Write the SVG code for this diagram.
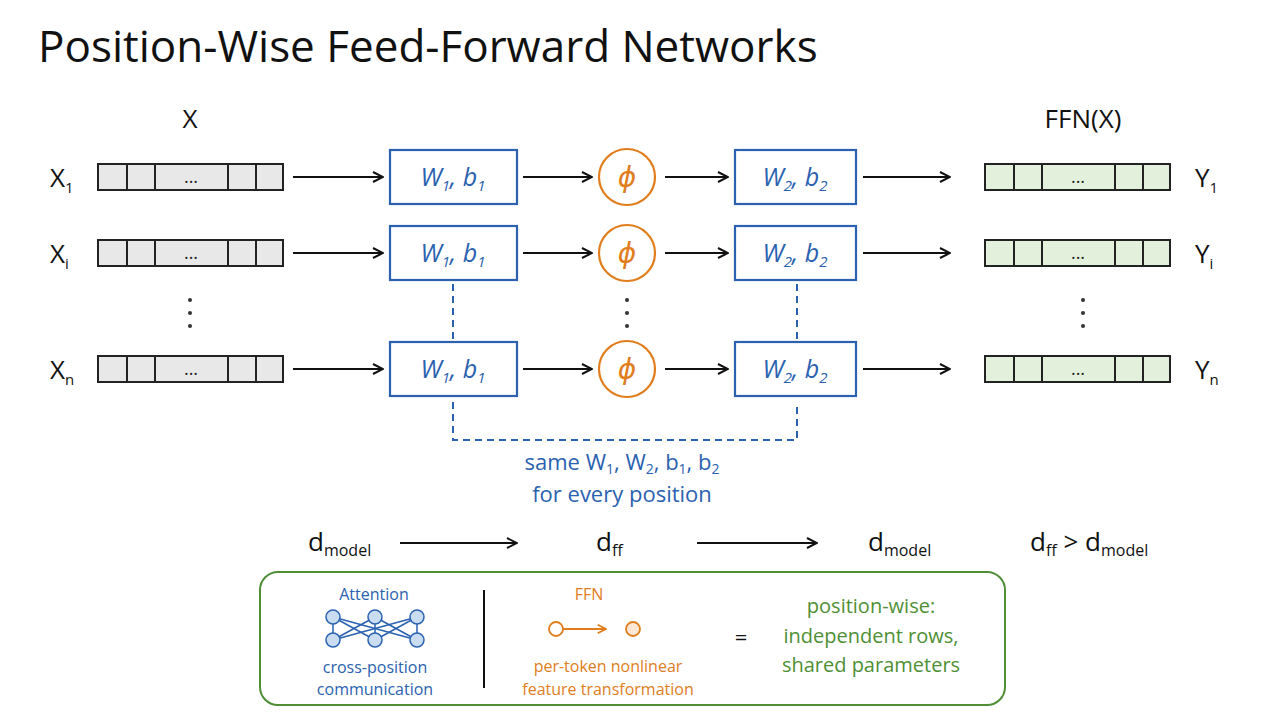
<svg xmlns="http://www.w3.org/2000/svg" width="1280" height="720" viewBox="0 0 1280 720">
<style>
text{font-family:"Open Sans","DejaVu Sans",sans-serif;}
.lbl{font-size:26px;fill:#111;}
.cell{fill:#e8e8e8;stroke:#222;stroke-width:2;}
.gcell{fill:#e3f1dc;stroke:#222;stroke-width:2;}
.wbox{fill:#fff;stroke:#2a62b0;stroke-width:2.2;}
.wt{font-size:25px;fill:#2a62b0;text-anchor:middle;font-style:italic;}
.phi{fill:#fff;stroke:#e07d1c;stroke-width:2.2;}
.pt{font-size:28px;fill:#e07d1c;text-anchor:middle;font-style:italic;}
.arr{stroke:#111;stroke-width:2;fill:none;marker-end:url(#ah);}
.dash{stroke:#2a62b0;stroke-width:2;fill:none;stroke-dasharray:7 5;}
</style>
<defs>
<marker id="ah" viewBox="0 0 12 12" refX="11" refY="6" markerWidth="12" markerHeight="12" markerUnits="userSpaceOnUse" orient="auto"><path d="M1,1 L11,6 L1,11" fill="none" stroke="#111" stroke-width="2"/></marker>
<marker id="oh" viewBox="0 0 12 12" refX="11" refY="6" markerWidth="10" markerHeight="10" markerUnits="userSpaceOnUse" orient="auto"><path d="M1,1 L11,6 L1,11" fill="none" stroke="#e07d1c" stroke-width="2"/></marker>
<g id="inbar"><rect class="cell" x="0" y="-13" width="29" height="26"/><rect class="cell" x="29" y="-13" width="28" height="26"/><rect class="cell" x="57" y="-13" width="73" height="26"/><rect class="cell" x="130" y="-13" width="28" height="26"/><rect class="cell" x="158" y="-13" width="27" height="26"/><text x="93" y="6" font-size="18" text-anchor="middle" fill="#222">...</text></g>
<g id="outbar"><rect class="gcell" x="0" y="-13" width="29" height="26"/><rect class="gcell" x="29" y="-13" width="28" height="26"/><rect class="gcell" x="57" y="-13" width="73" height="26"/><rect class="gcell" x="130" y="-13" width="28" height="26"/><rect class="gcell" x="158" y="-13" width="27" height="26"/><text x="93" y="6" font-size="18" text-anchor="middle" fill="#222">...</text></g>
</defs>
<rect width="1280" height="720" fill="#fff"/>
<text x="38" y="62" font-size="44" fill="#111">Position-Wise Feed-Forward Networks</text>
<text x="190" y="128" class="lbl" text-anchor="middle">X</text>
<text x="1083" y="128" class="lbl" text-anchor="middle">FFN(X)</text>

<g id="row1">
<text x="50" y="187" class="lbl">X<tspan font-size="15" dy="6">1</tspan></text>
<use href="#inbar" x="98" y="177"/>
<rect class="wbox" x="390" y="150" width="127" height="54"/><text class="wt" x="453" y="186">W<tspan font-size="15" dy="5">1</tspan><tspan dy="-5">, b</tspan><tspan font-size="15" dy="5">1</tspan></text>
<circle class="phi" cx="627" cy="177" r="28"/><text class="pt" x="627" y="187">ϕ</text>
<rect class="wbox" x="735" y="150" width="121" height="54"/><text class="wt" x="795" y="186">W<tspan font-size="15" dy="5">2</tspan><tspan dy="-5">, b</tspan><tspan font-size="15" dy="5">2</tspan></text>
<use href="#outbar" x="985" y="177"/>
<text x="1195" y="187" class="lbl">Y<tspan font-size="15" dy="6">1</tspan></text>
</g>
<g id="row2">
<text x="50" y="263" class="lbl">X<tspan font-size="15" dy="6">i</tspan></text>
<use href="#inbar" x="98" y="253"/>
<rect class="wbox" x="390" y="226" width="127" height="54"/><text class="wt" x="453" y="262">W<tspan font-size="15" dy="5">1</tspan><tspan dy="-5">, b</tspan><tspan font-size="15" dy="5">1</tspan></text>
<circle class="phi" cx="627" cy="253" r="28"/><text class="pt" x="627" y="263">ϕ</text>
<rect class="wbox" x="735" y="226" width="121" height="54"/><text class="wt" x="795" y="262">W<tspan font-size="15" dy="5">2</tspan><tspan dy="-5">, b</tspan><tspan font-size="15" dy="5">2</tspan></text>
<use href="#outbar" x="985" y="253"/>
<text x="1195" y="263" class="lbl">Y<tspan font-size="15" dy="6">i</tspan></text>
</g>
<g id="row3">
<text x="50" y="379" class="lbl">X<tspan font-size="15" dy="6">n</tspan></text>
<use href="#inbar" x="98" y="369"/>
<rect class="wbox" x="390" y="342" width="127" height="54"/><text class="wt" x="453" y="378">W<tspan font-size="15" dy="5">1</tspan><tspan dy="-5">, b</tspan><tspan font-size="15" dy="5">1</tspan></text>
<circle class="phi" cx="627" cy="369" r="28"/><text class="pt" x="627" y="379">ϕ</text>
<rect class="wbox" x="735" y="342" width="121" height="54"/><text class="wt" x="795" y="378">W<tspan font-size="15" dy="5">2</tspan><tspan dy="-5">, b</tspan><tspan font-size="15" dy="5">2</tspan></text>
<use href="#outbar" x="985" y="369"/>
<text x="1195" y="379" class="lbl">Y<tspan font-size="15" dy="6">n</tspan></text>
</g>
<g id="vdots" fill="#333">
<circle cx="190" cy="300" r="2"/><circle cx="190" cy="313" r="2"/><circle cx="190" cy="326" r="2"/>
<circle cx="627" cy="300" r="2"/><circle cx="627" cy="313" r="2"/><circle cx="627" cy="326" r="2"/>
<circle cx="1083" cy="300" r="2"/><circle cx="1083" cy="313" r="2"/><circle cx="1083" cy="326" r="2"/>
</g>
<g id="connectors">
<line class="arr" x1="293" y1="177" x2="383" y2="177"/><line class="arr" x1="523" y1="177" x2="592" y2="177"/><line class="arr" x1="665" y1="177" x2="728" y2="177"/><line class="arr" x1="863" y1="177" x2="950" y2="177"/>
<line class="arr" x1="293" y1="253" x2="383" y2="253"/><line class="arr" x1="523" y1="253" x2="592" y2="253"/><line class="arr" x1="665" y1="253" x2="728" y2="253"/><line class="arr" x1="863" y1="253" x2="950" y2="253"/>
<line class="arr" x1="293" y1="369" x2="383" y2="369"/><line class="arr" x1="523" y1="369" x2="592" y2="369"/><line class="arr" x1="665" y1="369" x2="728" y2="369"/><line class="arr" x1="863" y1="369" x2="950" y2="369"/>
<line class="dash" x1="453" y1="284" x2="453" y2="340"/><line class="dash" x1="797" y1="284" x2="797" y2="340"/>
<path class="dash" d="M453,402 V440 H797 V402"/>
<line class="arr" x1="400" y1="543" x2="517" y2="543"/><line class="arr" x1="697" y1="543" x2="817" y2="543"/>
</g>
<text x="622" y="470" font-size="22" fill="#2a62b0" text-anchor="middle">same W<tspan font-size="14" dy="4">1</tspan><tspan dy="-4">, W</tspan><tspan font-size="14" dy="4">2</tspan><tspan dy="-4">, b</tspan><tspan font-size="14" dy="4">1</tspan><tspan dy="-4">, b</tspan><tspan font-size="14" dy="4">2</tspan></text>
<text x="622" y="502" font-size="22" fill="#2a62b0" text-anchor="middle">for every position</text>
<g id="dims" font-size="26" fill="#111">
<text x="308" y="551">d<tspan font-size="16" dy="5">model</tspan></text>
<text x="596" y="551">d<tspan font-size="16" dy="5">ff</tspan></text>
<text x="868" y="551">d<tspan font-size="16" dy="5">model</tspan></text>
<text x="1030" y="551">d<tspan font-size="16" dy="5">ff</tspan><tspan dy="-5">  &gt;  d</tspan><tspan font-size="16" dy="5">model</tspan></text>
</g>
<g id="legend">
<rect x="260" y="572" width="745" height="133" rx="18" fill="#fff" stroke="#4e8f35" stroke-width="2"/>
<text x="374" y="600" font-size="16" fill="#2a62b0" text-anchor="middle">Attention</text>
<g stroke="#2a62b0" stroke-width="1.5">
<line x1="333" y1="617" x2="333" y2="640"/><line x1="333" y1="617" x2="375" y2="640"/><line x1="333" y1="617" x2="417" y2="640"/>
<line x1="375" y1="617" x2="333" y2="640"/><line x1="375" y1="617" x2="375" y2="640"/><line x1="375" y1="617" x2="417" y2="640"/>
<line x1="417" y1="617" x2="333" y2="640"/><line x1="417" y1="617" x2="375" y2="640"/><line x1="417" y1="617" x2="417" y2="640"/>
</g>
<g fill="#c9dcf2" stroke="#2a62b0" stroke-width="1.5">
<circle cx="333" cy="617" r="7"/><circle cx="375" cy="617" r="7"/><circle cx="417" cy="617" r="7"/>
<circle cx="333" cy="640" r="7"/><circle cx="375" cy="640" r="7"/><circle cx="417" cy="640" r="7"/>
</g>
<text x="375" y="673" font-size="16" fill="#2a62b0" text-anchor="middle">cross-position</text>
<text x="375" y="695" font-size="16" fill="#2a62b0" text-anchor="middle">communication</text>
<line x1="484" y1="590" x2="484" y2="688" stroke="#111" stroke-width="2"/>
<text x="589" y="600" font-size="16" fill="#e07d1c" text-anchor="middle">FFN</text>
<circle cx="556" cy="629" r="7" fill="#fff" stroke="#e07d1c" stroke-width="1.8"/>
<line x1="563" y1="629" x2="606" y2="629" stroke="#e07d1c" stroke-width="1.8" marker-end="url(#oh)"/>
<circle cx="633" cy="629" r="7" fill="#fde8d6" stroke="#e07d1c" stroke-width="1.8"/>
<text x="608" y="672" font-size="16" fill="#e07d1c" text-anchor="middle">per-token nonlinear</text>
<text x="608" y="695" font-size="16" fill="#e07d1c" text-anchor="middle">feature transformation</text>
<text x="741" y="645" font-size="22" fill="#111" text-anchor="middle">=</text>
<g font-size="20" fill="#4e8f35" text-anchor="middle">
<text x="871" y="613">position-wise:</text>
<text x="871" y="643">independent rows,</text>
<text x="871" y="672">shared parameters</text>
</g>
</g>
</svg>
